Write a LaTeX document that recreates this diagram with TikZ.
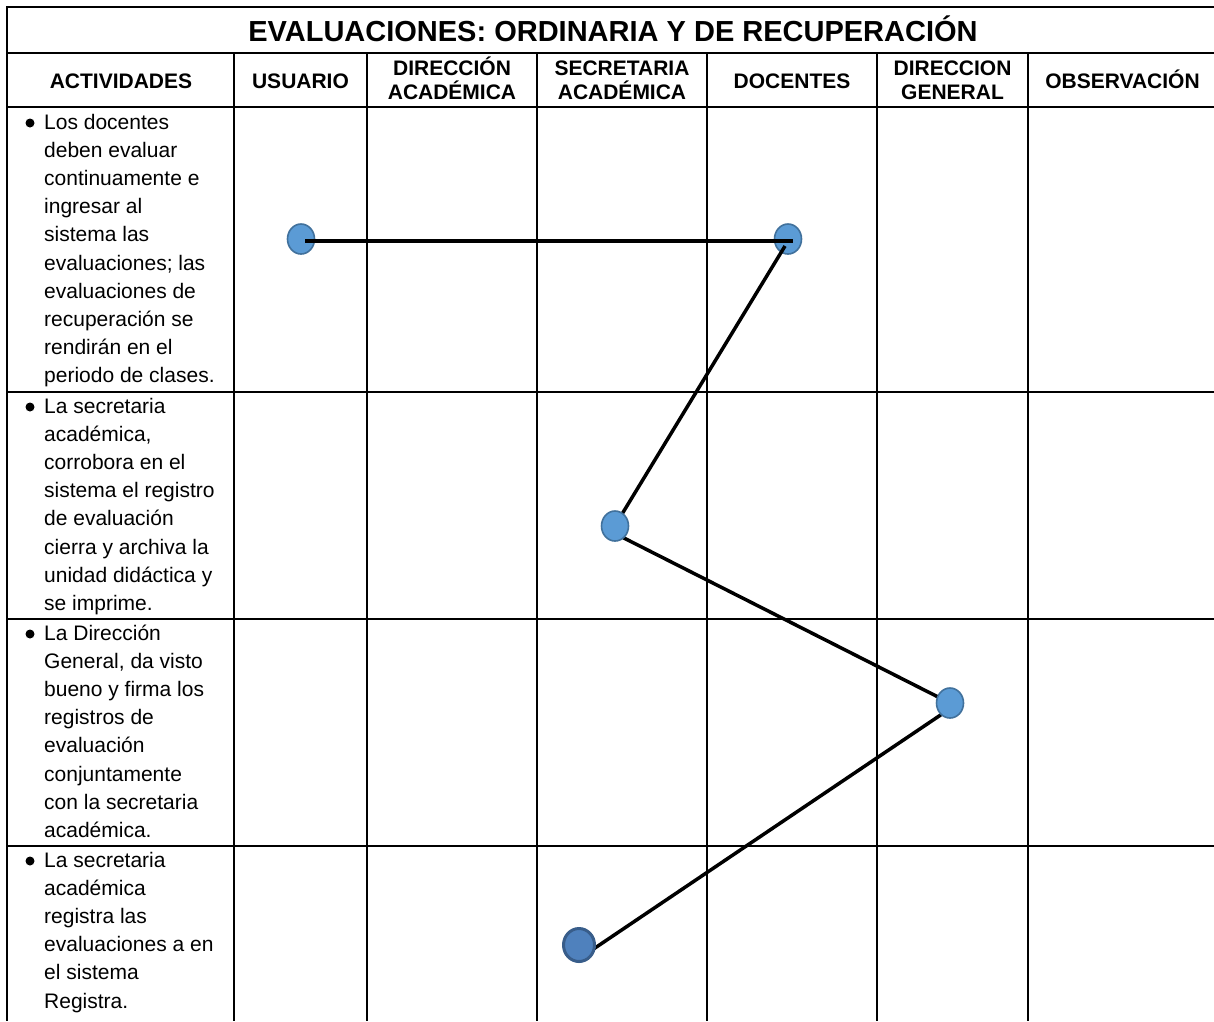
\documentclass[tikz,border=0pt]{standalone}
\usepackage{fontspec}
\setmainfont{Liberation Sans}
\usetikzlibrary{shapes.geometric}
\definecolor{cfill}{HTML}{5B9BD5}
\definecolor{cline}{HTML}{41719C}
\definecolor{dfill}{HTML}{4F81BD}
\definecolor{dline}{HTML}{385D8A}
\pgfdeclarelayer{front}
\pgfsetlayers{main,front}
\tikzset{
  gridline/.style={line width=1.8pt, black},
  body/.style={font=\fontsize{21pt}{28.2pt}\selectfont, inner sep=0pt, anchor=base west},
  head/.style={font=\fontsize{21pt}{24pt}\selectfont\bfseries, inner sep=0pt, anchor=base},
  titletext/.style={font=\fontsize{29pt}{32pt}\selectfont\bfseries, inner sep=0pt, anchor=base},
  dot/.style={ellipse, draw=cline, fill=cfill, line width=1.6pt, minimum width=27pt, minimum height=30pt, inner sep=0pt},
  dotdark/.style={ellipse, draw=dline, fill=dfill, line width=3pt, minimum width=31pt, minimum height=33pt, inner sep=0pt},
  conn/.style={line width=3.5pt, black},
  bul/.style={circle, fill=black, inner sep=0pt, minimum size=9pt},
}
\begin{document}
\begin{tikzpicture}[x=1pt,y=-1pt]
\useasboundingbox[fill=white] (0,0) rectangle (1214,1021);
% table grid
\draw[gridline] (1214,7) -- (7,7) -- (7,1021);
\foreach \yy in {53,107,392,619,846} \draw[gridline] (7,\yy) -- (1214,\yy);
\foreach \xx in {234,367,537,707,877,1028} \draw[gridline] (\xx,53) -- (\xx,1021);
% title
\node[titletext] (title) at (613,41) {EVALUACIONES: ORDINARIA Y DE RECUPERACIÓN};
% headers
\node[head] (hact) at (121,88) {ACTIVIDADES};
\node[head] (husr) at (300.5,88) {USUARIO};
\node[head] (hda1) at (452,75) {DIRECCIÓN};
\node[head] (hda2) at (452,99) {ACADÉMICA};
\node[head] (hsa1) at (622,75) {SECRETARIA};
\node[head] (hsa2) at (622,99) {ACADÉMICA};
\node[head] (hdoc) at (792,88) {DOCENTES};
\node[head] (hdg1) at (952.5,75) {DIRECCION};
\node[head] (hdg2) at (952.5,99) {GENERAL};
\node[head] (hobs) at (1122.5,88) {OBSERVACIÓN};
% bullets
\node[bul] (b1) at (30,123) {};
\node[bul] (b2) at (30,407) {};
\node[bul] (b3) at (30,634) {};
\node[bul] (b4) at (30,861) {};
% activity texts
\foreach \t [count=\i from 0] in {Los docentes, deben evaluar, continuamente e, ingresar al, sistema las, evaluaciones; las, evaluaciones de, recuperación se, rendirán en el, periodo de clases.}
  \node[body] (ra\i) at (44,{129+28.2*\i}) {\t};
\foreach \t [count=\i from 0] in {La secretaria, {académica,}, corrobora en el, sistema el registro, de evaluación, cierra y archiva la, unidad didáctica y, se imprime.}
  \node[body] (rb\i) at (44,{413+28.2*\i}) {\t};
\foreach \t [count=\i from 0] in {La Dirección, {General, da visto}, bueno y firma los, registros de, evaluación, conjuntamente, con la secretaria, académica.}
  \node[body] (rc\i) at (44,{640+28.2*\i}) {\t};
\foreach \t [count=\i from 0] in {La secretaria, académica, registra las, evaluaciones a en, el sistema, Registra.}
  \node[body] (rd\i) at (44,{867+28.2*\i}) {\t};
% flow
\begin{pgfonlayer}{front}
\node[dot] (c3) at (615,526) {};
\node[dot] (c4) at (950,703) {};
\node[dotdark] (c5) at (579,945) {};
\end{pgfonlayer}
\node[dot] (c1) at (301,239) {};
\node[dot] (c2) at (788,239) {};
\draw[conn] ([shift={(4,2)}]c1.center) -- ([shift={(5,2)}]c2.center);
\draw[conn] ([shift={(-3,7)}]c2.center) -- ([shift={(4,-7)}]c3.center);
\draw[conn] ([shift={(3,9)}]c3.center) -- (c4.center);
\draw[conn] ([shift={(-5,9)}]c4.center) -- ([shift={(10,7)}]c5.center);
\end{tikzpicture}
\end{document}
